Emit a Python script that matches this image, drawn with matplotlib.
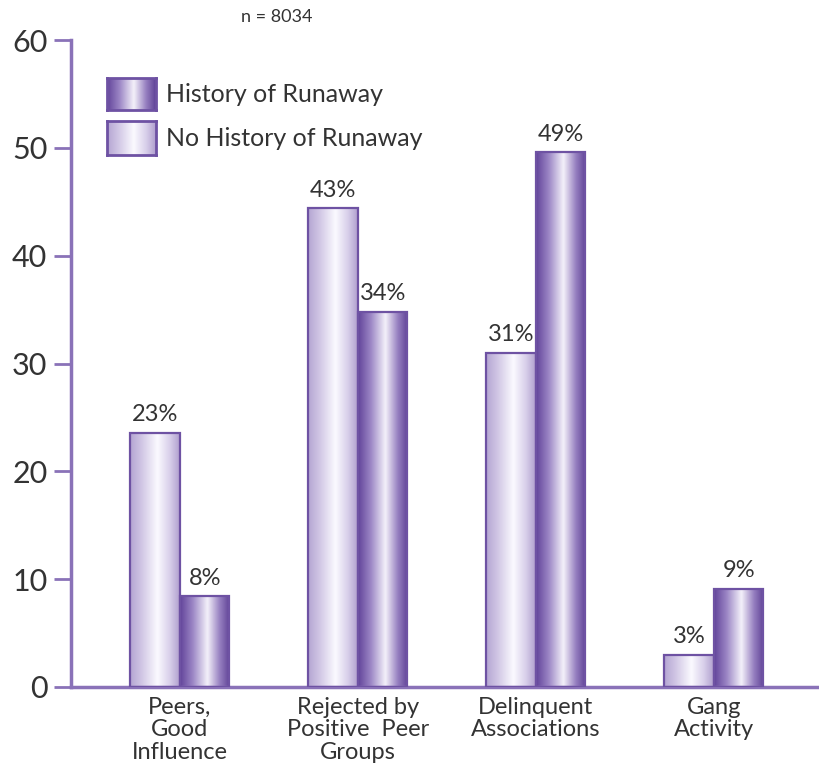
import numpy as np
import matplotlib.pyplot as plt
from matplotlib.colors import LinearSegmentedColormap
from matplotlib.patches import Rectangle

plt.rcParams['font.family'] = ['Lato', 'DejaVu Sans']

# data
categories = ['Peers,\nGood\nInfluence', 'Rejected by\nPositive  Peer\nGroups',
              'Delinquent\nAssociations', 'Gang\nActivity']
no_history = [23.6, 44.4, 31.0, 3.0]
history = [8.4, 34.8, 49.6, 9.1]
no_history_labels = ['23%', '43%', '31%', '3%']
history_labels = ['8%', '34%', '49%', '9%']
series_names = ['History of Runaway', 'No History of Runaway']

edge = '#6e52a3'
txt = '#333333'
light_cmap = LinearSegmentedColormap.from_list(
    'light', [(0, '#b4a4d2'), (0.25, '#d3c9e6'), (0.55, '#fbfaff'), (0.8, '#d8cfea'), (1, '#b09fce')])
dark_cmap = LinearSegmentedColormap.from_list(
    'dark', [(0, '#62449a'), (0.25, '#9a84c4'), (0.55, '#f4f1fa'), (0.8, '#967fc0'), (1, '#5f4296')])
grad = np.linspace(0, 1, 256).reshape(1, -1)

fig = plt.figure(figsize=(8.19, 7.71), dpi=100)
ax = fig.add_axes([71 / 819, 1 - 687 / 771, 1 - 71 / 819, (687 - 40) / 771])

w = 0.278
x = np.arange(len(categories))
for i in range(len(categories)):
    for x0, h, cmap, lab in [(x[i] - w, no_history[i], light_cmap, no_history_labels[i]),
                             (x[i], history[i], dark_cmap, history_labels[i])]:
        ax.imshow(grad, cmap=cmap, aspect='auto', extent=(x0, x0 + w, 0, h),
                  zorder=2, interpolation='bicubic')
        ax.add_patch(Rectangle((x0, 0), w, h, fill=False, edgecolor=edge, lw=1.6, zorder=3))
        ax.text(x0 + w / 2, h + 0.7, lab, ha='center', va='bottom', fontsize=17, color=txt)

ax.set_xlim(-0.612, 3.59)
ax.set_ylim(0, 60)
ax.set_yticks(range(0, 61, 10))
ax.set_xticks(x)
ax.set_xticklabels(categories, fontsize=17, color=txt, linespacing=1.1)
ax.tick_params(axis='x', length=0, pad=7)
ax.tick_params(axis='y', length=12, width=2, color='#8a72b8', labelsize=22, labelcolor=txt, pad=5)
for s in ['top', 'right']:
    ax.spines[s].set_visible(False)
for s in ['left', 'bottom']:
    ax.spines[s].set_color('#8a72b8')
    ax.spines[s].set_linewidth(2.5)

# legend drawn with gradient swatches
lx, lw = 107 / 819, 49 / 819
swatches = [(1 - 110 / 771, 1 - 78 / 771, dark_cmap), (1 - 155 / 771, 1 - 121 / 771, light_cmap)]
for (y0, y1, cmap), name in zip(swatches, series_names):
    sax = fig.add_axes([lx, y0, lw, y1 - y0])
    sax.imshow(grad, cmap=cmap, aspect='auto', interpolation='bicubic')
    sax.set_xticks([])
    sax.set_yticks([])
    for sp in sax.spines.values():
        sp.set_color(edge)
        sp.set_linewidth(2)
    fig.text(166 / 819, (y0 + y1) / 2, name, fontsize=18, va='center', color=txt)

fig.text(277 / 819, 1 - 17 / 771, 'n = 8034', fontsize=13, ha='center', va='center', color=txt)

fig.savefig('out.png', dpi=100)
